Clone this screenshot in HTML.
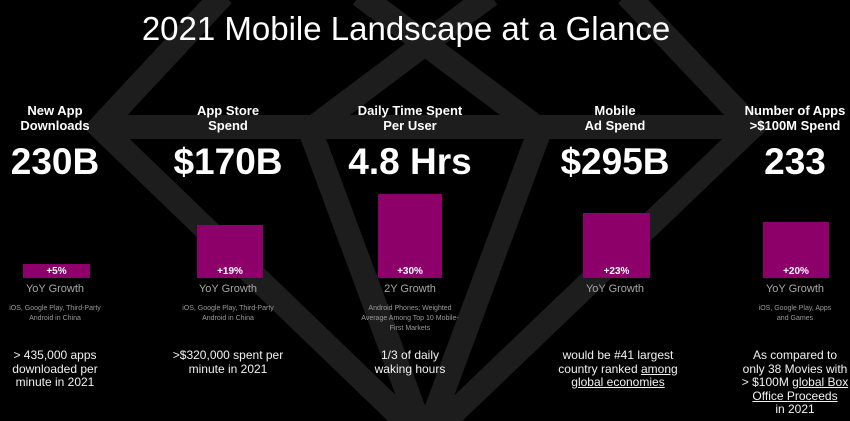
<!DOCTYPE html>
<html><head><meta charset="utf-8"><style>
html,body{margin:0;padding:0;background:#000;}
body{width:850px;height:421px;position:relative;overflow:hidden;font-family:"Liberation Sans",sans-serif;color:#fff;}
svg{position:absolute;left:0;top:0;}
.t{position:absolute;text-align:center;white-space:nowrap;}
.h{font-weight:bold;font-size:13px;line-height:15px;}
.n{font-weight:bold;font-size:37px;line-height:40px;}
.bar{position:absolute;background:#8e0069;}
.bl{position:absolute;left:0;right:0;bottom:1px;text-align:center;font-weight:bold;font-size:10px;color:#fff;}
.g{font-size:11px;color:#a8a8a8;line-height:13px;}
.s{font-size:7px;color:#9a9a9a;line-height:10px;}
.b{font-size:12px;line-height:13.5px;color:#f2f2f2;}
u{text-decoration:underline;}
</style></head><body>
<svg width="850" height="421" viewBox="0 0 850 421">
<g stroke="#1d1d1d" stroke-width="24" fill="none" stroke-linejoin="miter">
<polyline points="223,-5 100,127 425,440 752,127 627,-5"/>
<line x1="100" y1="127" x2="752" y2="127"/>
<polyline points="490,-5 310,130 425,440 540,130 360,-5"/>
</g>
</svg>
<div class="t" style="left:0;width:812px;top:9px;font-size:33px;line-height:40px;font-weight:300;">2021 Mobile Landscape at a Glance</div>

<div class="t h" style="left:-45px;width:200px;top:103px;">New App<br>Downloads</div>
<div class="t h" style="left:128px;width:200px;top:103px;">App Store<br>Spend</div>
<div class="t h" style="left:310px;width:200px;top:103px;">Daily Time Spent<br>Per User</div>
<div class="t h" style="left:515px;width:200px;top:103px;">Mobile<br>Ad Spend</div>
<div class="t h" style="left:695px;width:200px;top:103px;">Number of Apps<br>&gt;$100M Spend</div>

<div class="t n" style="left:-45px;width:200px;top:142px;">230B</div>
<div class="t n" style="left:128px;width:200px;top:142px;">$170B</div>
<div class="t n" style="left:310px;width:200px;top:142px;">4.8 Hrs</div>
<div class="t n" style="left:515px;width:200px;top:142px;">$295B</div>
<div class="t n" style="left:695px;width:200px;top:142px;">233</div>

<div class="bar" style="left:23px;width:67px;top:264px;height:14px;"><div class="bl">+5%</div></div>
<div class="bar" style="left:197px;width:66px;top:225px;height:53px;"><div class="bl">+19%</div></div>
<div class="bar" style="left:378px;width:64px;top:194px;height:84px;"><div class="bl">+30%</div></div>
<div class="bar" style="left:583px;width:67px;top:213px;height:65px;"><div class="bl">+23%</div></div>
<div class="bar" style="left:763px;width:66px;top:222px;height:56px;"><div class="bl">+20%</div></div>

<div class="t g" style="left:-45px;width:200px;top:283px;">YoY Growth</div>
<div class="t g" style="left:128px;width:200px;top:283px;">YoY Growth</div>
<div class="t g" style="left:310px;width:200px;top:283px;">2Y Growth</div>
<div class="t g" style="left:515px;width:200px;top:283px;">YoY Growth</div>
<div class="t g" style="left:695px;width:200px;top:283px;">YoY Growth</div>

<div class="t s" style="left:-45px;width:200px;top:304px;">iOS, Google Play, Third-Party<br>Android in China</div>
<div class="t s" style="left:128px;width:200px;top:304px;">iOS, Google Play, Third-Party<br>Android in China</div>
<div class="t s" style="left:310px;width:200px;top:304px;">Android Phones; Weighted<br>Average Among Top 10 Mobile-<br>First Markets</div>
<div class="t s" style="left:695px;width:200px;top:304px;">iOS, Google Play, Apps<br>and Games</div>

<div class="t b" style="left:-45px;width:200px;top:349px;">&gt; 435,000 apps<br>downloaded per<br>minute in 2021</div>
<div class="t b" style="left:128px;width:200px;top:349px;">&gt;$320,000 spent per<br>minute in 2021</div>
<div class="t b" style="left:310px;width:200px;top:349px;">1/3 of daily<br>waking hours</div>
<div class="t b" style="left:518px;width:200px;top:349px;">would be #41 largest<br>country ranked <u>among </u><br><u>global economies</u></div>
<div class="t b" style="left:695px;width:200px;top:349px;">As compared to<br>only 38 Movies with<br>&gt; $100M <u>global Box </u><br><u>Office Proceeds</u><br>in 2021</div>
</body></html>
